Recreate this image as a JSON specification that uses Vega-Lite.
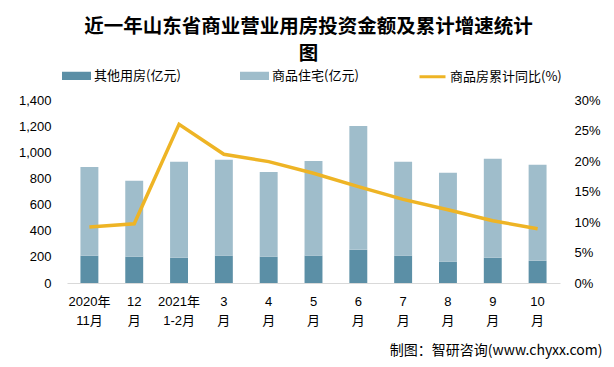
{
  "$schema": "https://vega.github.io/schema/vega-lite/v6.json",
  "width": 493,
  "height": 183,
  "autosize": {"type": "none"},
  "padding": {"left": 67, "top": 100, "right": 54, "bottom": 84},
  "background": "white",
  "title": {
    "text": ["近一年山东省商业营业用房投资金额及累计增速统计", "图"],
    "font": "Noto Sans CJK SC",
    "fontSize": 19.5,
    "fontWeight": "bold",
    "lineHeight": 27,
    "color": "#000000",
    "anchor": "middle",
    "dx": -5,
    "offset": -3
  },
  "config": {
    "view": {"stroke": null},
    "font": "Liberation Sans, Noto Sans CJK SC",
    "axis": {"grid": false, "ticks": false, "labelColor": "#000000", "labelFontSize": 13, "labelFont": "Liberation Sans, Noto Sans CJK SC"}
  },
  "datasets": {
    "bars": [
      {"month": "2020年|11月", "series": "其他用房(亿元)", "value": 209},
      {"month": "2020年|11月", "series": "商品住宅(亿元)", "value": 679},
      {"month": "12|月", "series": "其他用房(亿元)", "value": 201},
      {"month": "12|月", "series": "商品住宅(亿元)", "value": 581},
      {"month": "2021年|1-2月", "series": "其他用房(亿元)", "value": 193},
      {"month": "2021年|1-2月", "series": "商品住宅(亿元)", "value": 734},
      {"month": "3|月", "series": "其他用房(亿元)", "value": 209},
      {"month": "3|月", "series": "商品住宅(亿元)", "value": 733},
      {"month": "4|月", "series": "其他用房(亿元)", "value": 201},
      {"month": "4|月", "series": "商品住宅(亿元)", "value": 649},
      {"month": "5|月", "series": "其他用房(亿元)", "value": 209},
      {"month": "5|月", "series": "商品住宅(亿元)", "value": 725},
      {"month": "6|月", "series": "其他用房(亿元)", "value": 254},
      {"month": "6|月", "series": "商品住宅(亿元)", "value": 948},
      {"month": "7|月", "series": "其他用房(亿元)", "value": 209},
      {"month": "7|月", "series": "商品住宅(亿元)", "value": 718},
      {"month": "8|月", "series": "其他用房(亿元)", "value": 163},
      {"month": "8|月", "series": "商品住宅(亿元)", "value": 680},
      {"month": "9|月", "series": "其他用房(亿元)", "value": 193},
      {"month": "9|月", "series": "商品住宅(亿元)", "value": 757},
      {"month": "10|月", "series": "其他用房(亿元)", "value": 170},
      {"month": "10|月", "series": "商品住宅(亿元)", "value": 734}
    ],
    "rate": [
      {"month": "2020年|11月", "series": "商品房累计同比(%)", "rate": 9.2},
      {"month": "12|月", "series": "商品房累计同比(%)", "rate": 9.7},
      {"month": "2021年|1-2月", "series": "商品房累计同比(%)", "rate": 26.0},
      {"month": "3|月", "series": "商品房累计同比(%)", "rate": 21.1},
      {"month": "4|月", "series": "商品房累计同比(%)", "rate": 19.9},
      {"month": "5|月", "series": "商品房累计同比(%)", "rate": 18.0},
      {"month": "6|月", "series": "商品房累计同比(%)", "rate": 15.8},
      {"month": "7|月", "series": "商品房累计同比(%)", "rate": 13.7},
      {"month": "8|月", "series": "商品房累计同比(%)", "rate": 12.0},
      {"month": "9|月", "series": "商品房累计同比(%)", "rate": 10.2},
      {"month": "10|月", "series": "商品房累计同比(%)", "rate": 8.9}
    ]
  },
  "encoding": {
    "x": {
      "field": "month",
      "type": "nominal",
      "sort": null,
      "scale": {"paddingInner": 0.6, "paddingOuter": 0.3},
      "axis": {
        "labelAngle": 0,
        "labelExpr": "split(datum.value, '|')",
        "labelLineHeight": 19,
        "labelPadding": 12,
        "domainColor": "#d9d9d9",
        "title": "制图：智研咨询(www.chyxx.com)",
        "titleFont": "Noto Sans CJK SC",
        "titleFontSize": 14,
        "titleFontWeight": "normal",
        "titleColor": "#000000",
        "titleX": 535,
        "titleY": 67,
        "titleAlign": "right",
        "titleBaseline": "middle",
        "titleAnchor": null
      }
    }
  },
  "layer": [
    {
      "data": {"name": "bars"},
      "mark": {"type": "bar"},
      "encoding": {
        "y": {
          "field": "value",
          "type": "quantitative",
          "stack": "zero",
          "scale": {"domain": [0, 1400]},
          "axis": {"values": [0, 200, 400, 600, 800, 1000, 1200, 1400], "format": ",d", "title": null, "domain": false, "labelPadding": 16}
        },
        "order": {"field": "series", "sort": "ascending"},
        "color": {
          "field": "series",
          "type": "nominal",
          "scale": {"domain": ["其他用房(亿元)", "商品住宅(亿元)", "商品房累计同比(%)"], "range": ["#5B8FA6", "#9FBDCB", "#EEB425"]},
          "legend": {
            "title": null,
            "orient": "none",
            "legendX": -5,
            "legendY": -39,
            "direction": "horizontal",
            "columnPadding": 54,
            "labelFontSize": 13,
            "labelFont": "Noto Sans CJK SC",
            "labelColor": "#000000",
            "labelOffset": 3,
            "symbolSize": 676,
            "encode": {
              "symbols": {
                "update": {
                  "shape": {"signal": "datum.value == '商品房累计同比(%)' ? 'stroke' : 'M-1,-0.2H1V0.2H-1Z'"},
                  "fill": {"signal": "datum.value == '商品房累计同比(%)' ? 'transparent' : scale('color', datum.value)"},
                  "stroke": {"signal": "datum.value == '商品房累计同比(%)' ? scale('color', datum.value) : 'transparent'"},
                  "strokeWidth": {"value": 3},
                  "opacity": {"value": 1}
                }
              }
            }
          }
        }
      }
    },
    {
      "data": {"name": "rate"},
      "mark": {"type": "line", "strokeWidth": 3.5},
      "encoding": {
        "y": {
          "field": "rate",
          "type": "quantitative",
          "scale": {"domain": [0, 30]},
          "axis": {"orient": "right", "values": [0, 5, 10, 15, 20, 25, 30], "labelExpr": "datum.value + '%'", "title": null, "domain": false, "labelPadding": 14}
        },
        "color": {"field": "series", "type": "nominal"}
      }
    }
  ],
  "resolve": {"scale": {"y": "independent"}}
}
